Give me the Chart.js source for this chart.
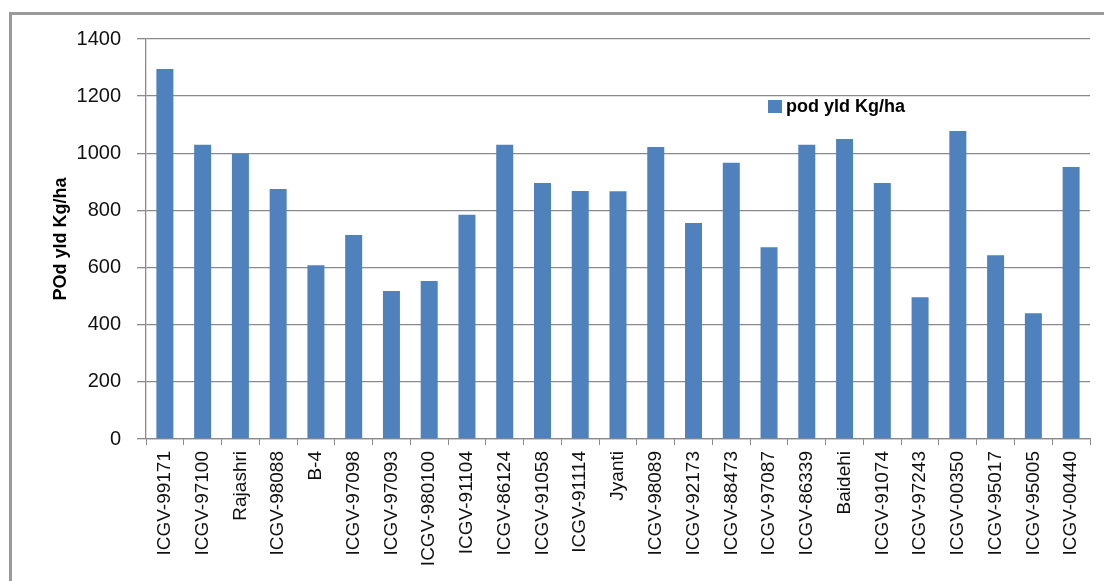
<!DOCTYPE html>
<html>
<head>
<meta charset="utf-8">
<script src="https://cdn.jsdelivr.net/npm/chart.js@4"></script>
<style>
  html, body { margin: 0; padding: 0; background: #fff; }
  #c { display: block; }
</style>
</head>
<body>
<canvas id="c" width="1104" height="581"></canvas>
<script>
const categories = ["ICGV-99171","ICGV-97100","Rajashri","ICGV-98088","B-4","ICGV-97098","ICGV-97093","ICGV-980100","ICGV-91104","ICGV-86124","ICGV-91058","ICGV-91114","Jyanti","ICGV-98089","ICGV-92173","ICGV-88473","ICGV-97087","ICGV-86339","Baidehi","ICGV-91074","ICGV-97243","ICGV-00350","ICGV-95017","ICGV-95005","ICGV-00440"];
const podYield = [1295,1030,998,875,608,714,518,553,785,1030,896,868,867,1022,756,967,671,1030,1050,896,496,1078,643,440,952];
const seriesLabel = "pod yld Kg/ha";
const yTitle = "POd yld Kg/ha";
const yTicks = [0,200,400,600,800,1000,1200,1400];

const barColor = "#4F81BD";
const fontFam = "'Liberation Sans', Arial, sans-serif";

const framePlugin = {
  id: 'frame',
  beforeDraw(chart) {
    const ctx = chart.ctx;
    ctx.save();
    ctx.fillStyle = '#fff';
    ctx.fillRect(0, 0, chart.width, chart.height);
    ctx.strokeStyle = '#9a9a9a';
    ctx.lineWidth = 3;
    ctx.strokeRect(10.5, 13.5, 1200, 700);
    ctx.restore();
  }
};

const legendPlugin = {
  id: 'customLegend',
  afterDraw(chart) {
    const ctx = chart.ctx;
    const ds = chart.data.datasets[0];
    ctx.save();
    ctx.fillStyle = ds.backgroundColor;
    ctx.fillRect(768, 100, 14, 13);
    ctx.fillStyle = '#000';
    ctx.font = "bold 18px " + fontFam;
    ctx.textBaseline = 'middle';
    ctx.textAlign = 'left';
    ctx.fillText(ds.label, 786, 107);
    ctx.restore();
  }
};

new Chart(document.getElementById('c'), {
  type: 'bar',
  data: {
    labels: categories,
    datasets: [{
      label: seriesLabel,
      data: podYield,
      backgroundColor: barColor,
      borderWidth: 0,
      categoryPercentage: 1.0,
      barPercentage: 0.45
    }]
  },
  options: {
    responsive: false,
    animation: false,
    devicePixelRatio: 1,
    layout: { padding: { left: 0, top: 39, right: 14, bottom: 0 } },
    plugins: {
      legend: { display: false },
      tooltip: { enabled: false }
    },
    scales: {
      x: {
        afterFit(scale) { scale.height = 142; },
        grid: { display: true, drawOnChartArea: false, drawTicks: true, tickLength: 6, color: '#8a8a8a', offset: true },
        border: { display: true, color: '#8a8a8a', width: 1.3 },
        ticks: {
          autoSkip: false,
          minRotation: 90,
          maxRotation: 90,
          padding: 6,
          color: '#111',
          font: { family: fontFam, size: 19 }
        }
      },
      y: {
        min: 0,
        max: 1400,
        afterFit(scale) { scale.width = 146; },
        afterBuildTicks(scale) { scale.ticks = yTicks.map(v => ({ value: v })); },
        grid: { color: '#8a8a8a', lineWidth: 1.3, drawTicks: true, tickLength: 9 },
        border: { display: true, color: '#8a8a8a', width: 1.3 },
        ticks: {
          padding: 16,
          color: '#111',
          font: { family: fontFam, size: 20 },
          callback: (v) => String(v)
        },
        title: {
          display: true,
          text: yTitle,
          color: '#000',
          padding: { top: 50, bottom: 0 },
          font: { family: fontFam, size: 18, weight: 'bold' }
        }
      }
    }
  },
  plugins: [framePlugin, legendPlugin]
});
</script>
</body>
</html>
